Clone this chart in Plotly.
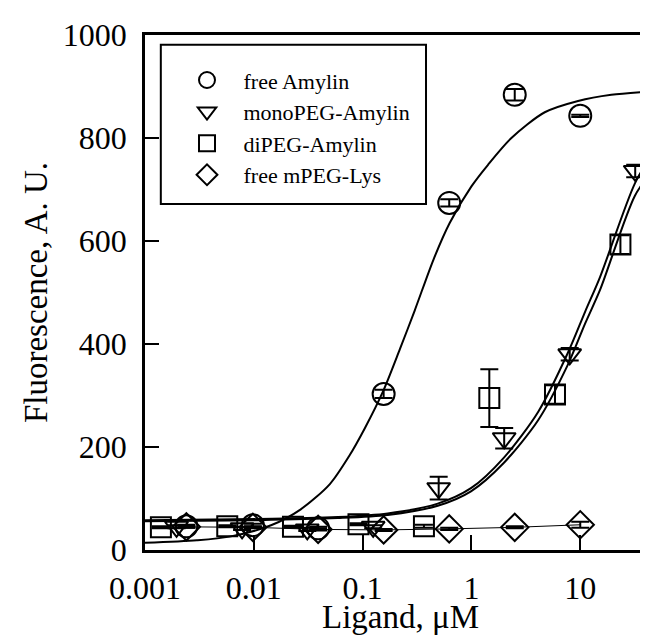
import plotly.graph_objects as go

# ---- data ----
# free Amylin (circles)
amy_x = [0.0024, 0.0098, 0.039, 0.156, 0.625, 2.5, 10]
amy_y = [46, 48, 42, 303, 674, 884, 843]
amy_err = [3, 3, 3, 8, 7, 11, 2]

# monoPEG-Amylin (down triangles)
mono_x = [0.00195, 0.0078, 0.031, 0.125, 0.5, 2.0, 8.0, 32.0]
mono_y = [45, 42, 40, 45, 120, 217, 380, 736]
mono_err = [3, 3, 3, 3, 22, 20, 12, 12]

# diPEG-Amylin (squares)
di_x = [0.0014, 0.0057, 0.0229, 0.0916, 0.366, 1.46, 5.86, 23.4]
di_y = [44, 46, 45, 50, 46, 295, 302, 593]
di_err = [2, 2, 2, 2, 3, 56, 18, 18]

# free mPEG-Lys (diamonds)
peg_x = [0.0024, 0.0098, 0.039, 0.156, 0.625, 2.5, 10]
peg_y = [45, 44, 40, 39, 41, 44, 49]
peg_err = [2, 2, 2, 2, 2, 2, 6]

# fitted curves
amy_fit_x = [0.001, 0.003, 0.006, 0.0144, 0.027, 0.05, 0.075, 0.1045, 0.154, 0.22, 0.301, 0.45,
             0.631, 1.0, 1.42, 2.33, 4.72, 9.55, 19.3, 48.4]
amy_fit_y = [14, 19, 26, 48, 79, 128, 182, 236, 308, 390, 465, 565,
             635, 706, 748, 800, 850, 872, 884, 891]

mono_fit_x = [0.001, 0.011, 0.059, 0.17, 0.49, 0.99, 2.0, 4.1, 7.7, 11.1, 15.2, 31.8, 48]
mono_fit_y = [58, 60, 64, 71, 90, 120, 180, 268, 383, 463, 530, 712, 775]
di_fit_y = [56, 58, 62, 68, 86, 114, 170, 252, 360, 440, 505, 688, 742]

# axis ticks
x_tickvals = [0.001, 0.01, 0.1, 1, 10]
x_ticktext = ["0.001", "0.01", "0.1", "1", "10"]
y_tickvals = [0, 200, 400, 600, 800, 1000]

FONT = "Liberation Serif, Times New Roman, serif"
BLACK = "black"

fig = go.Figure()

def err(arr):
    return dict(type="data", array=arr, color=BLACK, thickness=2, width=9, visible=True)

# curves
for cx, cy in [(amy_fit_x, amy_fit_y), (mono_fit_x, mono_fit_y), (mono_fit_x, di_fit_y)]:
    fig.add_trace(go.Scatter(x=cx, y=cy, mode="lines",
                             line=dict(color=BLACK, width=2, shape="spline", smoothing=0.8),
                             showlegend=False, hoverinfo="skip"))
fig.add_trace(go.Scatter(x=peg_x, y=peg_y, mode="lines", line=dict(color=BLACK, width=1),
                         showlegend=False, hoverinfo="skip"))

# data points
fig.add_trace(go.Scatter(x=amy_x, y=amy_y, error_y=err(amy_err), mode="markers", name="free Amylin",
                         marker=dict(symbol="circle-open", size=22, color=BLACK, line=dict(width=2, color=BLACK))))
fig.add_trace(go.Scatter(x=mono_x, y=mono_y, error_y=err(mono_err), mode="markers", name="monoPEG-Amylin",
                         marker=dict(symbol="triangle-down-open", size=20, color=BLACK, line=dict(width=2, color=BLACK))))
fig.add_trace(go.Scatter(x=di_x, y=di_y, error_y=err(di_err), mode="markers", name="diPEG-Amylin",
                         marker=dict(symbol="square-open", size=20, color=BLACK, line=dict(width=2, color=BLACK))))
fig.add_trace(go.Scatter(x=peg_x, y=peg_y, error_y=err(peg_err), mode="markers", name="free mPEG-Lys",
                         marker=dict(symbol="diamond-open", size=21, color=BLACK, line=dict(width=2, color=BLACK))))

fig.update_layout(
    template="none",
    width=648, height=636,
    margin=dict(l=137, r=1, t=27, b=94, autoexpand=False),
    paper_bgcolor="white", plot_bgcolor="white",
    font=dict(family=FONT, color=BLACK),
    showlegend=True,
    legend=dict(x=0.05, y=0.953, xanchor="left", yanchor="top",
                bgcolor="rgba(0,0,0,0)", borderwidth=0,
                font=dict(family=FONT, size=22, color=BLACK),
                itemwidth=63, itemsizing="trace", tracegroupgap=0),
    shapes=[dict(type="rect", xref="paper", yref="paper",
                 x0=0.031, x1=0.551, y0=0.672, y1=0.981,
                 line=dict(color=BLACK, width=2), fillcolor="rgba(0,0,0,0)")],
    annotations=[dict(text="Ligand, μM", xref="paper", yref="paper", x=0.5, y=-0.130,
                      xanchor="center", yanchor="middle", showarrow=False,
                      font=dict(family=FONT, size=33, color=BLACK))],
)

fig.update_xaxes(type="log", range=[-3, 1.687], tickvals=x_tickvals, ticktext=x_ticktext,
                 automargin=False,
                 ticks="inside", ticklen=15, tickwidth=2, tickcolor=BLACK,
                 showline=True, linewidth=2.5, linecolor=BLACK, mirror=True,
                 showgrid=False, zeroline=False,
                 tickfont=dict(family=FONT, size=32, color=BLACK), ticklabelstandoff=8)
fig.update_yaxes(range=[0, 1000], tickvals=y_tickvals,
                 automargin=False,
                 ticks="inside", ticklen=14, tickwidth=2, tickcolor=BLACK,
                 showline=True, linewidth=2.5, linecolor=BLACK, mirror=True,
                 showgrid=False, zeroline=False,
                 tickfont=dict(family=FONT, size=32, color=BLACK), ticklabelstandoff=9,
                 title=dict(text="Fluorescence, A. U.", font=dict(family=FONT, size=33, color=BLACK), standoff=6))

fig.write_html("out.html")
